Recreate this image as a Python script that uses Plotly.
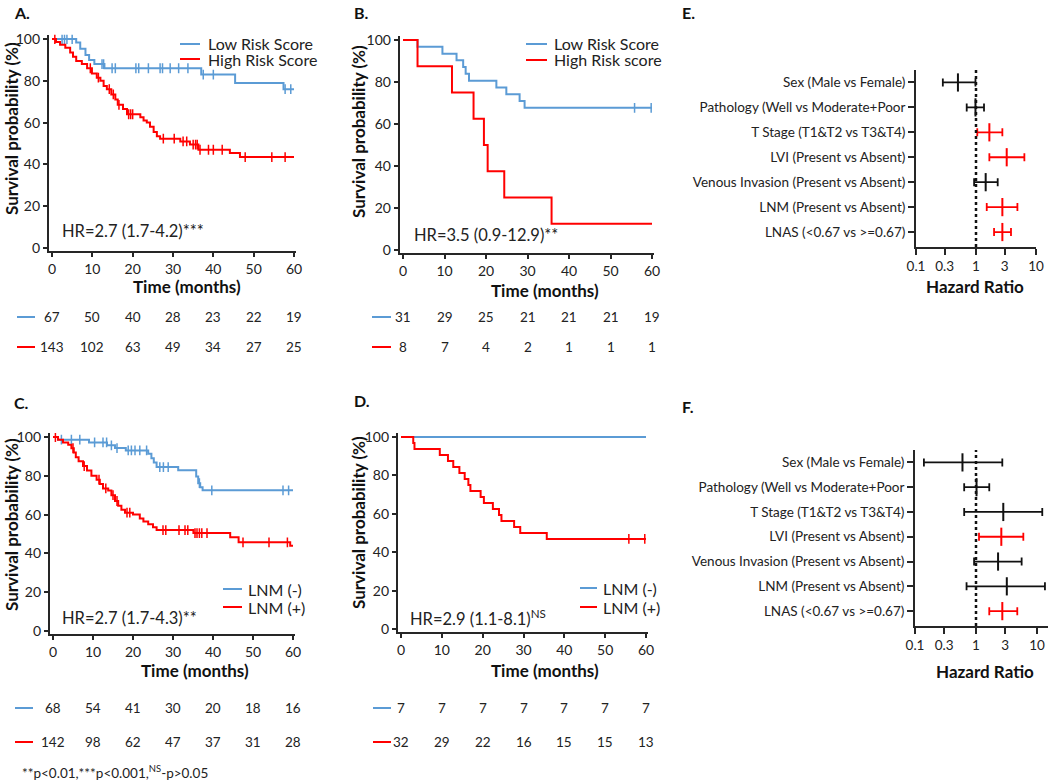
import plotly.graph_objects as go

W, H = 1050, 782
FONT = "Lato"
BLUE = "#5B9BD5"
RED = "#FF0000"
AXC = "#262626"

# ---------------- data ----------------
time_ticks = [0, 10, 20, 30, 40, 50, 60]
surv_ticks = [0, 20, 40, 60, 80, 100]

# Panel A
a_low_t = [0, 6.0, 7.0, 8.3, 9.2, 10.5, 13.0, 37.0, 45.4, 57.4]
a_low_s = [100, 98.3, 95.3, 92.3, 90.0, 88.0, 86.0, 83.0, 79.0, 76.0]
a_low_c = [2.5, 3.1, 3.7, 5.0, 12.4, 12.8, 14.9, 15.7, 20.8, 21.5, 23.9, 26.8, 27.4, 29.3, 31.4, 33.7, 37.5, 40.0, 57.8, 59.2]
a_high_t = [0, 1.0, 2.0, 3.3, 4.5, 5.2, 6.0, 7.4, 8.7, 9.9, 11.1, 12.0, 12.8, 13.6, 14.7, 15.7, 16.3, 17.6, 18.6,
            21.9, 22.7, 23.5, 24.3, 25.2, 26.0, 26.8, 31.8, 34.2, 36.3, 44.1, 46.6]
a_high_s = [100, 98.6, 97.2, 95.8, 93.5, 91.5, 89.5, 88.0, 86.0, 83.5, 81.5, 80.0, 77.5, 76.0, 73.5, 71.0, 68.5, 66.5, 64.0,
            62.5, 61.0, 60.0, 58.0, 55.5, 53.5, 52.3, 51.0, 49.5, 47.0, 45.5, 43.5]
a_high_c = [0.7, 9.5, 11.5, 14.2, 15.2, 16.6, 19.0, 19.5, 20.0, 27.6, 30.3, 32.5, 33.4, 35.0, 35.6, 36.0, 36.7, 38.8, 40.0,
            42.2, 47.9, 54.5, 57.8]

# Panel B
b_low_t = [0, 3.5, 9.5, 12.9, 14.5, 15.1, 15.9, 22.5, 24.9, 28.1, 29.3]
b_low_s = [100, 96.8, 93.5, 90.3, 87.1, 83.9, 80.6, 77.4, 74.2, 71.0, 67.7]
b_low_c = [55.8, 59.8]
b_high_t = [0, 3.5, 11.8, 17.0, 19.5, 20.4, 24.4, 35.8]
b_high_s = [100, 87.5, 75.0, 62.5, 50.0, 37.5, 25.0, 12.5]
b_high_c = []

# Panel C
c_neg_t = [0, 1.25, 9.0, 13.5, 15.5, 18.2, 23.8, 24.6, 25.2, 25.9, 31.3, 35.8, 36.3, 36.8, 37.4]
c_neg_s = [100, 98.6, 97.2, 95.7, 94.3, 93.1, 91.4, 89.1, 86.9, 84.5, 82.8, 79.7, 76.2, 74.1, 72.5]
c_neg_c = [2.1, 4.6, 6.7, 10.4, 12.5, 13.4, 14.6, 16.0, 18.8, 19.6, 20.5, 21.7, 23.4, 26.7, 27.6, 28.8, 36.6, 39.7, 57.5, 58.9]
c_pos_t = [0, 1.25, 2.5, 3.8, 4.6, 5.2, 5.7, 6.4, 7.5, 8.5, 9.6, 10.9, 11.7, 12.5, 13.8, 14.6, 15.5, 16.3, 17.1, 18.0,
           20.0, 21.7, 22.6, 23.8, 25.0, 25.9, 35.1, 44.3, 46.4, 59.3]
c_pos_s = [100, 98.6, 97.2, 96.0, 94.2, 92.0, 89.5, 87.5, 85.0, 82.7, 80.0, 78.0, 75.8, 73.5, 72.4, 70.0, 67.0, 64.5, 62.5, 61.0,
           60.0, 58.0, 56.5, 55.0, 53.5, 52.0, 50.5, 48.3, 45.7, 44.0]
c_pos_c = [0.6, 5.0, 7.8, 11.5, 13.2, 15.0, 16.0, 18.5, 19.2, 27.5, 28.2, 31.5, 33.0, 33.7, 35.5, 36.0, 36.6, 37.2, 38.5,
           47.5, 54.0, 58.6]

# Panel D
d_neg_t = [0]
d_neg_s = [100]
d_neg_c = []
d_pos_t = [0, 3.0, 3.3, 9.5, 11.5, 12.8, 14.3, 15.6, 16.5, 17.0, 19.5, 20.3, 22.5, 24.0, 24.6, 27.7, 29.2, 35.7]
d_pos_s = [100, 96.9, 93.8, 90.6, 87.5, 84.4, 81.3, 78.1, 75.0, 71.9, 68.8, 65.6, 62.5, 59.4, 56.3, 53.1, 50.0, 46.9]
d_pos_c = [55.8, 59.7]

# numbers at risk
a_low_risk = [67, 50, 40, 28, 23, 22, 19]
a_high_risk = [143, 102, 63, 49, 34, 27, 25]
b_low_risk = [31, 29, 25, 21, 21, 21, 19]
b_high_risk = [8, 7, 4, 2, 1, 1, 1]
c_neg_risk = [68, 54, 41, 30, 20, 18, 16]
c_pos_risk = [142, 98, 62, 47, 37, 31, 28]
d_neg_risk = [7, 7, 7, 7, 7, 7, 7]
d_pos_risk = [32, 29, 22, 16, 15, 15, 13]

# forest plots
forest_labels = ["Sex (Male vs Female)", "Pathology (Well vs Moderate+Poor", "T Stage (T1&T2 vs T3&T4)",
                 "LVI (Present vs Absent)", "Venous Invasion (Present vs Absent)", "LNM (Present vs Absent)",
                 "LNAS (<0.67 vs >=0.67)"]
e_hr = [0.50, 0.98, 1.67, 3.25, 1.45, 2.75, 2.75]
e_lo = [0.28, 0.70, 1.05, 1.67, 0.93, 1.51, 2.00]
e_hi = [0.98, 1.36, 2.75, 6.40, 2.30, 4.90, 3.83]
e_sig = [False, False, True, True, False, True, True]
f_hr = [0.60, 1.02, 2.80, 2.60, 2.30, 3.20, 2.70]
f_lo = [0.14, 0.64, 0.64, 1.12, 0.93, 0.70, 1.65]
f_hi = [2.70, 1.65, 12.2, 5.97, 5.60, 13.5, 4.75]
f_sig = [False, False, False, True, False, False, True]
hr_ticks = [0.1, 0.3, 1, 3, 10]


# ---------------- helpers ----------------
def dom_h(p0, v0, p1, v1, r0, r1):
    s = (p1 - p0) / (v1 - v0)
    return [(p0 + (r0 - v0) * s) / W, (p0 + (r1 - v0) * s) / W]


def dom_v(p0, v0, p1, v1, r0, r1):
    s = (p1 - p0) / (v1 - v0)
    a = 1 - (p0 + (r0 - v0) * s) / H
    b = 1 - (p0 + (r1 - v0) * s) / H
    return sorted([a, b])


def step_at(ts, ss, t):
    val = ss[0]
    for ti, si in zip(ts, ss):
        if ti <= t:
            val = si
    return val


def pxx(x):
    return x / W


def pyy(y):
    return 1 - y / H


def text(t, x, y, size, anchor="center", angle=0, bold=False, color="#222"):
    return dict(text=("<b>" + t + "</b>") if bold else t, x=pxx(x), y=pyy(y), xref="paper", yref="paper",
                xanchor=anchor, yanchor="middle", showarrow=False, textangle=angle,
                font=dict(size=size, color=color))


fig = go.Figure()
ann = []
shapes = []

XR = [-0.8, 60.6]
YR = [-1.5, 102]

km_panels = [
    dict(n="", x0=52, x1=294, y100=39, y0=248, label="A.", lab=(12, 12),
         curves=[(a_low_t, a_low_s, a_low_c, BLUE), (a_high_t, a_high_s, a_high_c, RED)],
         names=["Low Risk Score", "High Risk Score"], leg=(180, 200, 206, 44, 59),
         hr="HR=2.7 (1.7-4.2)***", hrpos=(2.0, 8.0),
         risk=[a_low_risk, a_high_risk], rrows=(317, 347), rline=(17, 35),
         xt=(187, 287), yt=(11, 129)),
    dict(n="2", x0=403, x1=652, y100=40, y0=250, label="B.", lab=(352, 12),
         curves=[(b_low_t, b_low_s, b_low_c, BLUE), (b_high_t, b_high_s, b_high_c, RED)],
         names=["Low Risk Score", "High Risk score"], leg=(526, 547, 552, 44, 60),
         hr="HR=3.5 (0.9-12.9)**", hrpos=(2.2, 7.0),
         risk=[b_low_risk, b_high_risk], rrows=(317, 347), rline=(372, 391),
         xt=(545, 290), yt=(358, 132)),
    dict(n="3", x0=53, x1=293, y100=437, y0=631, label="C.", lab=(12, 402),
         curves=[(c_neg_t, c_neg_s, c_neg_c, BLUE), (c_pos_t, c_pos_s, c_pos_c, RED)],
         names=["LNM (-)", "LNM (+)"], leg=(223, 242, 246, 589, 607),
         hr="HR=2.7 (1.7-4.3)**", hrpos=(1.75, 6.7),
         risk=[c_neg_risk, c_pos_risk], rrows=(708, 742), rline=(15, 33),
         xt=(195, 670), yt=(11, 525)),
    dict(n="4", x0=401, x1=646, y100=437, y0=629, label="D.", lab=(352, 400),
         curves=[(d_neg_t, d_neg_s, d_neg_c, BLUE), (d_pos_t, d_pos_s, d_pos_c, RED)],
         names=["LNM (-)", "LNM (+)"], leg=(580, 597, 601, 588, 607),
         hr="HR=2.9 (1.1-8.1)<sup>NS</sup>", hrpos=(1.7, 5.7),
         risk=[d_neg_risk, d_pos_risk], rrows=(708, 742), rline=(373, 391),
         xt=(545, 670), yt=(358, 523)),
]

layout_axes = {}
for p in km_panels:
    n = p["n"]
    xa, ya = "x" + n, "y" + n
    for (ts, ss, cs, col) in p["curves"]:
        fig.add_trace(go.Scatter(x=ts + [60], y=ss + [ss[-1]], mode="lines", line=dict(color=col, width=2, shape="hv"),
                                 xaxis=xa, yaxis=ya, showlegend=False, hoverinfo="skip"))
        if cs:
            fig.add_trace(go.Scatter(x=cs, y=[step_at(ts, ss, c) for c in cs], mode="markers",
                                     marker=dict(symbol="line-ns", size=7, line=dict(color=col, width=1.5)),
                                     xaxis=xa, yaxis=ya, showlegend=False, hoverinfo="skip"))
    layout_axes["xaxis" + n] = dict(
        domain=dom_h(p["x0"], 0, p["x1"], 60, XR[0], XR[1]), range=XR, anchor=ya, automargin=False,
        tickvals=time_ticks, ticks="outside", ticklen=4, tickwidth=1.5, tickcolor=AXC,
        showline=True, linecolor=AXC, linewidth=1.8, showgrid=False, zeroline=False,
        tickfont=dict(size=14, color="#222"))
    layout_axes["yaxis" + n] = dict(
        domain=dom_v(p["y0"], 0, p["y100"], 100, YR[0], YR[1]), range=YR, anchor=xa, automargin=False,
        tickvals=surv_ticks, ticks="outside", ticklen=4, tickwidth=1.5, tickcolor=AXC,
        showline=True, linecolor=AXC, linewidth=1.8, showgrid=False, zeroline=False,
        tickfont=dict(size=14, color="#222"))
    # axis titles
    ann.append(text("Time (months)", p["xt"][0], p["xt"][1], 17, bold=True, color="#111"))
    ann.append(text("Survival probability (%)", p["yt"][0], p["yt"][1], 17, angle=-90, bold=True, color="#111"))
    # panel label
    ann.append(text(p["label"], p["lab"][0], p["lab"][1], 16, anchor="left", bold=True, color="#111"))
    # legend
    lx0, lx1, tx, r1, r2 = p["leg"]
    for name, col, ry in zip(p["names"], [BLUE, RED], [r1, r2]):
        shapes.append(dict(type="line", xref="paper", yref="paper", x0=pxx(lx0), x1=pxx(lx1), y0=pyy(ry), y1=pyy(ry),
                           line=dict(color=col, width=2)))
        ann.append(text(name, tx, ry, 16, anchor="left"))
    # HR
    ann.append(dict(text=p["hr"], x=p["hrpos"][0], y=p["hrpos"][1], xref=xa, yref=ya, xanchor="left", yanchor="middle",
                    showarrow=False, font=dict(size=16.5, color="#222")))
    # numbers at risk
    for vals, col, ry in zip(p["risk"], [BLUE, RED], p["rrows"]):
        shapes.append(dict(type="line", xref="paper", yref="paper", x0=pxx(p["rline"][0]), x1=pxx(p["rline"][1]),
                           y0=pyy(ry), y1=pyy(ry), line=dict(color=col, width=2)))
        for t, v in zip(time_ticks, vals):
            ann.append(dict(text=str(v), x=t, y=pyy(ry), xref=xa, yref="paper", xanchor="center", yanchor="middle",
                            showarrow=False, font=dict(size=13.5, color="#222")))

forest_panels = [
    dict(n="5", hr=e_hr, lo=e_lo, hi=e_hi, sig=e_sig, xl=916, xr_=1036, xrange=[-1, 1], ytop=70, ybot=247,
         label="E.", lab=(680, 12), xt=(975, 287)),
    dict(n="6", hr=f_hr, lo=f_lo, hi=f_hi, sig=f_sig, xl=915, xr_=1037, xrange=[-1, 1.18], ytop=450, ybot=626,
         label="F.", lab=(680, 406), xt=(985, 671)),
]
for p in forest_panels:
    n = p["n"]
    xa, ya = "x" + n, "y" + n
    for lab, hr, lo, hi, sg in zip(forest_labels, p["hr"], p["lo"], p["hi"], p["sig"]):
        col = RED if sg else "#111"
        fig.add_trace(go.Scatter(x=[hr], y=[lab], mode="markers", xaxis=xa, yaxis=ya, showlegend=False,
                                 marker=dict(symbol="line-ns", size=13, line=dict(color=col, width=2)),
                                 error_x=dict(type="data", symmetric=False, array=[hi - hr], arrayminus=[hr - lo],
                                              color=col, thickness=1.8, width=4),
                                 hoverinfo="skip"))
    layout_axes["xaxis" + n] = dict(
        type="log", domain=dom_h(p["xl"], -1, p["xr_"], 1, p["xrange"][0], p["xrange"][1]), range=p["xrange"],
        anchor=ya, automargin=False, tickvals=hr_ticks, ticktext=[str(v) for v in hr_ticks], ticks="outside",
        ticklen=6, tickwidth=1.5, tickcolor=AXC, showline=True, linecolor=AXC, linewidth=1.8, showgrid=False,
        zeroline=False, tickfont=dict(size=13.5, color="#222"))
    layout_axes["yaxis" + n] = dict(
        type="category", categoryorder="array", categoryarray=forest_labels, range=[6.6, -0.5],
        domain=[pyy(p["ybot"]), pyy(p["ytop"])], anchor=xa, automargin=False, ticks="outside", ticklen=6,
        tickwidth=1.5, tickcolor=AXC, showline=True, linecolor=AXC, linewidth=1.8, showgrid=False, zeroline=False,
        tickfont=dict(size=13.5, color="#222"))
    shapes.append(dict(type="line", xref=xa, yref=ya + " domain", x0=1, x1=1, y0=0, y1=1,
                       line=dict(color="#111", width=2.5, dash="dot")))
    ann.append(text(p["label"], p["lab"][0], p["lab"][1], 16, anchor="left", bold=True, color="#111"))
    ann.append(text("Hazard Ratio", p["xt"][0], p["xt"][1], 17, bold=True, color="#111"))

ann.append(text("**p<0.01,***p<0.001,<sup>NS</sup>-p>0.05", 20, 772, 13.5, anchor="left"))

fig.update_layout(width=W, height=H, margin=dict(l=0, r=0, t=0, b=0, autoexpand=False), plot_bgcolor="white",
                  paper_bgcolor="white", font=dict(family=FONT, color="#222"), annotations=ann, shapes=shapes,
                  showlegend=False, **layout_axes)

# remove the browser's default 8px page margin so the 1050x782 figure fills the window exactly
fig.write_html("out.html", config={"displayModeBar": False},
               post_script="document.body.style.margin='0px';")
